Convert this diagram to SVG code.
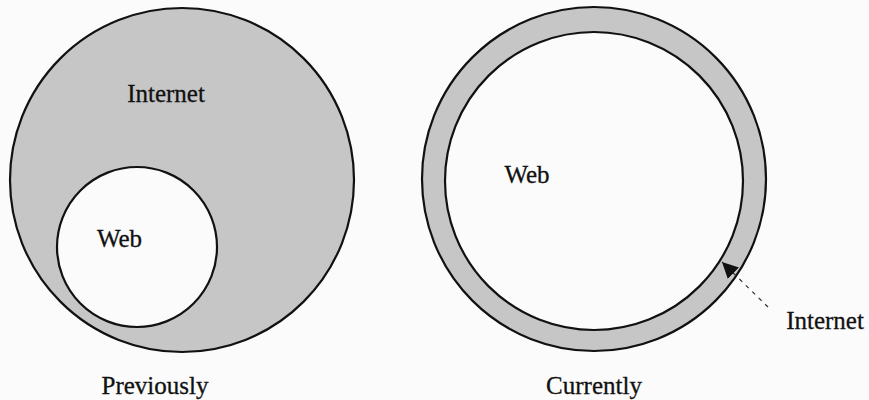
<svg xmlns="http://www.w3.org/2000/svg" width="869" height="400" viewBox="0 0 869 400">
<defs>
<style>
.bg{fill:#fbfbfb}
.gray{fill:#c6c6c6;stroke:#111;stroke-width:2.2}
.white{fill:#fbfbfb;stroke:#111;stroke-width:2.2}
.lbl{font-family:"Liberation Serif","Times New Roman",serif;font-size:25px;fill:#111;stroke:#111;stroke-width:0.3}
.conn{stroke:#333;stroke-width:1.2;stroke-dasharray:4 5;fill:none}
</style>
<marker id="ah" viewBox="0 0 10 10" refX="10" refY="5" markerWidth="16" markerHeight="16" markerUnits="userSpaceOnUse" orient="auto">
<path d="M0,0 L10,5 L0,10 z" fill="#111"/>
</marker>
</defs>
<rect class="bg" x="0" y="0" width="869" height="400"/>
<g id="previously">
<g id="internet-prev">
<circle class="gray" cx="182" cy="180" r="172"/>
<text class="lbl" x="166" y="102" text-anchor="middle">Internet</text>
</g>
<g id="web-prev">
<circle class="white" cx="137" cy="247" r="80"/>
<text class="lbl" x="119.5" y="247" text-anchor="middle">Web</text>
</g>
<text class="lbl" x="155" y="394" text-anchor="middle">Previously</text>
</g>
<g id="currently">
<g id="internet-cur">
<circle class="gray" cx="594" cy="179" r="172"/>
</g>
<g id="web-cur">
<circle class="white" cx="594" cy="181" r="149"/>
<text class="lbl" x="527" y="183" text-anchor="middle">Web</text>
</g>
<text class="lbl" x="594" y="394" text-anchor="middle">Currently</text>
</g>
<g id="internet-label">
<text class="lbl" x="825" y="329" text-anchor="middle">Internet</text>
</g>
<g id="connectors">
<line class="conn" x1="768" y1="307" x2="722" y2="262" marker-end="url(#ah)"/>
</g>
</svg>
